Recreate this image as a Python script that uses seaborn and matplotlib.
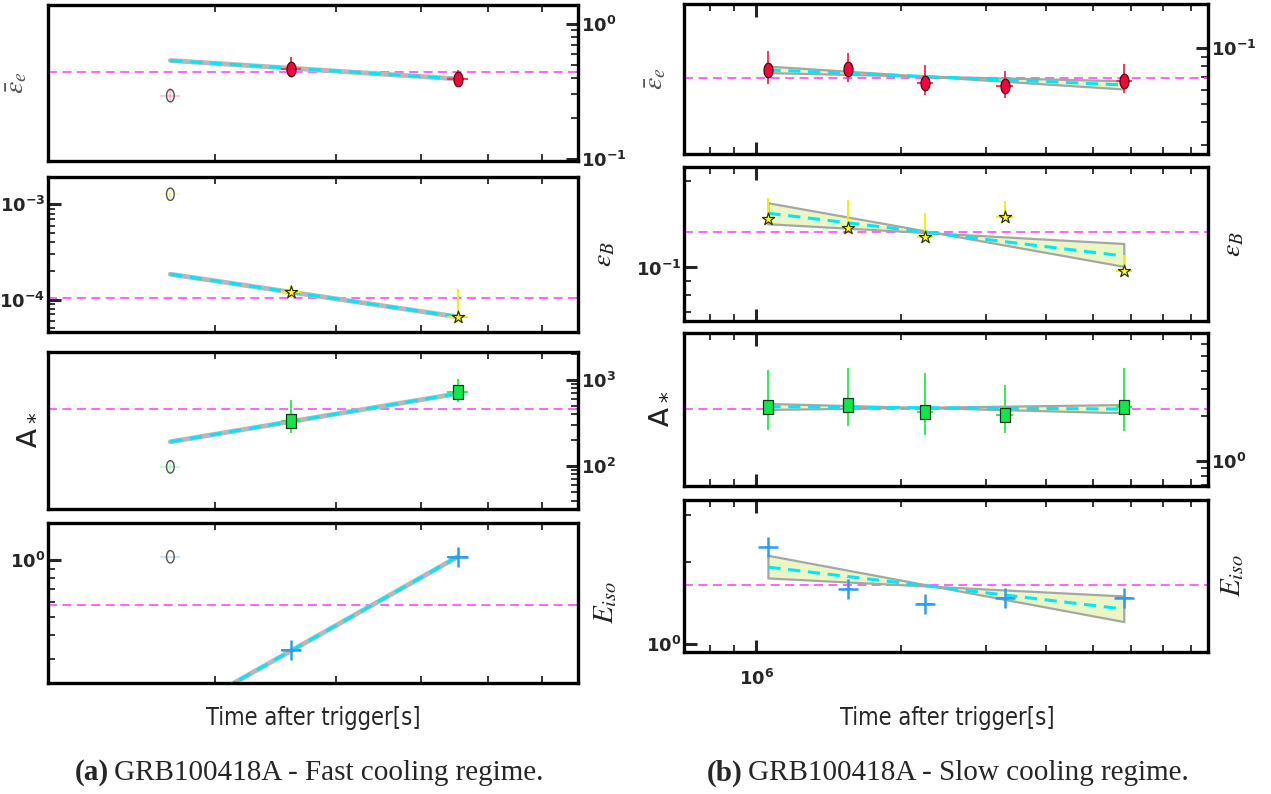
import numpy as np
import pandas as pd
import matplotlib
matplotlib.use("Agg")
import matplotlib.pyplot as plt
import matplotlib.ticker as mticker
import matplotlib.path as mpath
import seaborn as sns

# ---------------- (a) fast cooling ----------------
t_fast = [1.72e5, 2.58e5, 4.52e5]
t_fast_err = [5.8e3, 8.8e3, 1.54e4]
ee_fast = [0.294, 0.467, 0.388]
ee_fast_lo = [0.029, 0.062, 0.042]
ee_fast_hi = [0.039, 0.102, 0.066]
eB_fast = [1.28e-3, 1.19e-4, 6.56e-5]
eB_fast_lo = [1.7e-4, 1.6e-5, 2.6e-6]
eB_fast_hi = [2.4e-4, 2.3e-5, 6.5e-5]
A_fast = [98, 330, 721]
A_fast_lo = [16, 90, 169]
A_fast_hi = [19, 248, 302]
E_fast = [1.04, 0.332, 1.04]
E_fast_lo = [0.0, 0.0, 0.0]
E_fast_hi = [0.0, 0.0, 0.0]
fit_t_fast = [1.72e5, 4.52e5]
ee_fit_fast = [0.537, 0.392]
eB_fit_fast = [1.85e-4, 6.6e-5]
A_fit_fast = [191, 689]
E_fit_fast = [0.144, 1.04]
ee_ref_fast = 0.439
eB_ref_fast = 1.03e-4
A_ref_fast = 459
E_ref_fast = 0.579

# ---------------- (b) slow cooling ----------------
t_slow = [1.06e6, 1.55e6, 2.24e6, 3.28e6, 5.81e6]
t_slow_err = [1.5e4, 2.0e4, 8.7e4, 1.28e5, 2.27e5]
ee_slow = [0.0765, 0.0771, 0.0653, 0.0627, 0.0667]
ee_slow_lo = [0.0122, 0.0109, 0.0091, 0.0084, 0.0094]
ee_slow_hi = [0.0207, 0.0176, 0.0161, 0.0123, 0.0153]
eB_slow = [0.1474, 0.1377, 0.1281, 0.1498, 0.0971]
eB_slow_lo = [0.002, 0.002, 0.002, 0.002, 0.002]
eB_slow_hi = [0.0272, 0.0346, 0.0266, 0.0211, 0.0133]
A_slow = [2.30, 2.35, 2.11, 2.03, 2.30]
A_slow_lo = [0.69, 0.63, 0.62, 0.50, 0.72]
A_slow_hi = [1.74, 1.84, 1.77, 1.18, 1.89]
E_slow = [2.28, 1.598, 1.406, 1.476, 1.476]
E_slow_lo = [0.0, 0.0, 0.0, 0.0, 0.0]
E_slow_hi = [0.0, 0.0, 0.0, 0.0, 0.0]
fit_t_slow = [1.06e6, 5.81e6]
ee_fit_slow = [0.0765, 0.0635]
ee_band_a = [0.0797, 0.0600]
ee_band_b = [0.0735, 0.0665]
eB_fit_slow = [0.1547, 0.1096]
eB_band_a = [0.1677, 0.1005]
eB_band_b = [0.1416, 0.1208]
A_fit_slow = [2.30, 2.22]
A_band_a = [2.40, 2.08]
A_band_b = [2.19, 2.36]
E_fit_slow = [1.921, 1.343]
E_band_a = [2.117, 1.202]
E_band_b = [1.745, 1.496]
ee_ref_slow = 0.069
eB_ref_slow = 0.1334
A_ref_slow = 2.21
E_ref_slow = 1.648

captions = ["GRB100418A - Fast cooling regime.", "GRB100418A - Slow cooling regime."]
xlabel = "Time after trigger[s]"

sns.set_style("white")
plt.rcParams["font.family"] = ["DejaVu Sans"]

W, H = 1271, 794
fig = plt.figure(figsize=(W / 100, H / 100), dpi=100)

def box(x0, x1, top, bot):
    return [x0 / W, 1 - bot / H, (x1 - x0) / W, (bot - top) / H]

left_boxes = [box(48, 578, 5, 161), box(48, 578, 177, 332),
              box(48, 578, 352, 509), box(48, 578, 523, 683)]
right_boxes = [box(684, 1208, 4, 154), box(684, 1208, 167, 321),
               box(684, 1208, 333, 486), box(684, 1208, 500, 652)]

th = np.linspace(0, 2 * np.pi, 41)
ellipse = mpath.Path(np.column_stack([0.62 * np.cos(th), np.sin(th)]), closed=True)
rect = mpath.Path([(-0.7, -1), (0.7, -1), (0.7, 1), (-0.7, 1), (-0.7, -1)], closed=True)

def fmt(v, pos):
    if v <= 0:
        return ""
    e = int(round(np.log10(v)))
    return r"$\mathbf{10^{%d}}$" % e

styles = {
    "ee": dict(color="#f0083c", ecolor="#ff3355", marker=ellipse, s=110, edge="#5a0010"),
    "eB": dict(color="#ffff10", ecolor="#f2f200", marker="*", s=85, edge="#333300"),
    "A": dict(color="#10e84a", ecolor="#30f050", marker=rect, s=90, edge="#0d3a1a"),
    "E": dict(color="#2a9ff0", ecolor="#2a9ff0", marker="+", s=190, edge=None),
}

def decorate(ax, ylim, xlim, side, ylabel, label_x, label_font, show_xlabels):
    ax.set_xscale("log")
    ax.set_yscale("log")
    ax.set_xlim(*xlim)
    ax.set_ylim(*ylim)
    for sp in ax.spines.values():
        sp.set_linewidth(2.4)
        sp.set_color("black")
    if side == "right":
        ax.yaxis.tick_right()
    else:
        ax.yaxis.tick_left()
    ax.yaxis.set_major_formatter(mticker.FuncFormatter(fmt))
    ax.yaxis.set_minor_formatter(mticker.NullFormatter())
    ax.xaxis.set_major_formatter(mticker.FuncFormatter(fmt))
    ax.xaxis.set_minor_formatter(mticker.NullFormatter())
    ax.tick_params(axis="both", which="major", direction="in", length=9, width=2.2,
                   labelsize=13, pad=2)
    ax.tick_params(axis="both", which="minor", direction="in", length=5, width=1.3)
    ax.tick_params(axis="x", which="both", top=True, bottom=True,
                   labelbottom=show_xlabels, pad=12)
    ax.set_xlabel("")
    lab_side = "left" if side == "right" else "right"
    ax.yaxis.set_label_position(lab_side)
    ax.set_ylabel(ylabel, **label_font)
    ax.yaxis.set_label_coords(label_x, 0.5)

def draw(ax, t, terr, y, lo, hi, key, fit_t, fit_y, ref, open_first=False,
         band=None):
    st = styles[key]
    ax.axhline(ref, color="#ff55ff", lw=1.3, ls=(0, (5, 3)), zorder=1)
    if band is not None:
        a, b = band
        ax.fill([fit_t[0], fit_t[1], fit_t[1], fit_t[0]],
                [a[0], a[1], b[1], b[0]],
                facecolor="#eaf6c6", edgecolor="#a5a8a0", lw=1.6, zorder=2)
    else:
        sns.lineplot(x=fit_t, y=fit_y, ax=ax, color="#b8b8b8", lw=3.5, zorder=2)
    sns.lineplot(x=fit_t, y=fit_y, ax=ax, color="#00e8f5", lw=2.2,
                 linestyle=(0, (4, 2.5)), zorder=3)
    start = 1 if open_first else 0
    if open_first:
        ax.errorbar([t[0]], [y[0]], yerr=[[lo[0]], [hi[0]]], xerr=[[terr[0]], [terr[0]]],
                    fmt="none", ecolor=st["ecolor"], alpha=0.25, elinewidth=1.6, zorder=4)
        sns.scatterplot(x=[t[0]], y=[y[0]], ax=ax, marker=ellipse, s=80,
                        facecolor="none", edgecolor="#555555", linewidth=1.0, zorder=5)
    tt, yy = t[start:], y[start:]
    ax.errorbar(tt, yy, yerr=[lo[start:], hi[start:]],
                xerr=[terr[start:], terr[start:]],
                fmt="none", ecolor=st["ecolor"], elinewidth=1.4, zorder=4)
    df = pd.DataFrame({"t": tt, "v": yy})
    if st["edge"] is None:
        sns.scatterplot(data=df, x="t", y="v", ax=ax, marker="+", s=st["s"],
                        color=st["color"], linewidth=1.8, zorder=5)
    else:
        sns.scatterplot(data=df, x="t", y="v", ax=ax, marker=st["marker"], s=st["s"],
                        color=st["color"], edgecolor=st["edge"], linewidth=0.9, zorder=5)

lab_ee = dict(fontsize=20, color="#555555", math_fontfamily="stix")
lab_eB = dict(fontsize=20, color="#222222", math_fontfamily="stix")
lab_A = dict(fontsize=22, color="#222222")
lab_E = dict(fontsize=21, color="#222222", math_fontfamily="stix")

xl_fast = (1.14e5, 6.77e5)
xl_slow = (7.08e5, 8.67e6)

# ---- left column ----
axs = [fig.add_axes(b) for b in left_boxes]
draw(axs[0], t_fast, t_fast_err, ee_fast, ee_fast_lo, ee_fast_hi, "ee", fit_t_fast, ee_fit_fast, ee_ref_fast, True)
decorate(axs[0], (0.096, 1.39), xl_fast, "right", r"$\bar{\epsilon}_e$", -0.036, lab_ee, False)
draw(axs[1], t_fast, t_fast_err, eB_fast, eB_fast_lo, eB_fast_hi, "eB", fit_t_fast, eB_fit_fast, eB_ref_fast, True)
decorate(axs[1], (4.58e-5, 1.94e-3), xl_fast, "left", r"$\epsilon_B$", 1.022, lab_eB, False)
draw(axs[2], t_fast, t_fast_err, A_fast, A_fast_lo, A_fast_hi, "A", fit_t_fast, A_fit_fast, A_ref_fast, True)
decorate(axs[2], (31.9, 2084), xl_fast, "right", r"A$_*$", -0.016, lab_A, False)
draw(axs[3], t_fast, t_fast_err, E_fast, E_fast_lo, E_fast_hi, "E", fit_t_fast, E_fit_fast, E_ref_fast, True)
decorate(axs[3], (0.223, 1.57), xl_fast, "left", r"$E_{iso}$", 1.025, lab_E, False)

# ---- right column ----
bxs = [fig.add_axes(b) for b in right_boxes]
draw(bxs[0], t_slow, t_slow_err, ee_slow, ee_slow_lo, ee_slow_hi, "ee", fit_t_slow, ee_fit_slow, ee_ref_slow, False, (ee_band_a, ee_band_b))
decorate(bxs[0], (0.0270, 0.173), xl_slow, "right", r"$\bar{\epsilon}_e$", -0.03, lab_ee, False)
draw(bxs[1], t_slow, t_slow_err, eB_slow, eB_slow_lo, eB_slow_hi, "eB", fit_t_slow, eB_fit_slow, eB_ref_slow, False, (eB_band_a, eB_band_b))
decorate(bxs[1], (0.065, 0.2245), xl_slow, "left", r"$\epsilon_B$", 1.019, lab_eB, False)
draw(bxs[2], t_slow, t_slow_err, A_slow, A_slow_lo, A_slow_hi, "A", fit_t_slow, A_fit_slow, A_ref_slow, False, (A_band_a, A_band_b))
decorate(bxs[2], (0.685, 7.1), xl_slow, "right", r"A$_*$", -0.022, lab_A, False)
draw(bxs[3], t_slow, t_slow_err, E_slow, E_slow_lo, E_slow_hi, "E", fit_t_slow, E_fit_slow, E_ref_slow, False, (E_band_a, E_band_b))
decorate(bxs[3], (0.931, 3.41), xl_slow, "left", r"$E_{iso}$", 1.019, lab_E, True)

for x in (313 / W, 947 / W):
    fig.text(x, 1 - 718 / H, xlabel, ha="center", va="center", fontsize=17,
             family=["Liberation Sans Narrow", "DejaVu Sans"], stretch="condensed")

for xa, lab, cap in ((75 / W, "(a)", captions[0]), (707 / W, "(b)", captions[1])):
    t1 = fig.text(xa, 1 - 773 / H, lab, ha="left", va="center", fontsize=21,
                  family="Liberation Serif", fontweight="bold")
    fig.canvas.draw()
    bb = t1.get_window_extent()
    fig.text(bb.x1 / W + 5 / W, 1 - 773 / H, cap, ha="left", va="center", fontsize=21,
             family="Liberation Serif")

fig.savefig("out.png", dpi=100)
